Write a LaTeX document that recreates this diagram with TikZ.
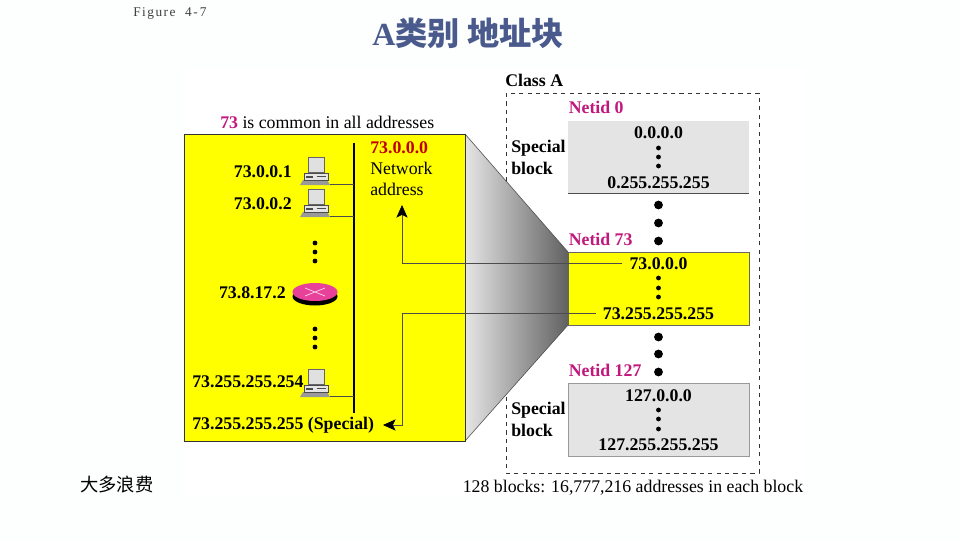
\documentclass[tikz,border=0pt]{standalone}
\usepackage{fontspec}
\usepackage{xcolor}
\usetikzlibrary{arrows.meta, positioning}
\setmainfont{Liberation Serif}
\newfontfamily\cjkfont{Noto Sans CJK SC}
\definecolor{pagebg}{HTML}{FDFEFE}
\definecolor{netyellow}{HTML}{FFFF00}
\definecolor{blockgray}{HTML}{E4E4E4}
\definecolor{netidpink}{HTML}{C2187E}
\definecolor{titleblue}{HTML}{4A5A8C}
\definecolor{routerpink}{HTML}{E8419A}
\tikzset{
  addr/.style={font=\bfseries\fontsize{12.65}{14}\selectfont, inner sep=0pt},
  plain/.style={font=\fontsize{12.65}{14}\selectfont, inner sep=0pt},
  netid/.style={addr, text=netidpink},
  smalldot/.style={fill=black},
  wire/.style={draw=black!70, line width=0.5pt},
  pc/.pic={
    \fill[black!40] (0,28) -- (30,28) -- (27,23) -- (3,23) -- cycle;
    \filldraw[fill=white!90!black, draw=black!70, line width=0.3pt] (4,16) rectangle (28,23);
    \filldraw[fill=black!12, draw=black!60, line width=0.4pt] (8,0) rectangle (24,15);
    \fill[black!70] (17,19) rectangle (26,20);
    \fill[black!70] (6,19) rectangle (13,20.5);
  }
}

\begin{document}
\begin{tikzpicture}[x=0.025cm, y=-0.025cm]
  \useasboundingbox (0,0) rectangle (960,540);
  \fill[pagebg] (0,0) rectangle (960,540);
  \fill[white] (184,68) rectangle (805,497);

  % Titel
  \node[inner sep=0pt, anchor=west, text=black!75, font=\fontsize{9.5}{11}\selectfont] (figlabel) at (133,14) {\addfontfeature{LetterSpace=11}Figure\ \ 4-\,7};
  \node[inner sep=0pt, anchor=west, text=titleblue, font=\bfseries\fontsize{22.9}{26}\selectfont] (title) at (372,33) {A{\cjkfont 类别 地址块}};
  \node[inner sep=0pt, anchor=west, font=\cjkfont\fontsize{13}{15}\selectfont] (waste) at (80,485) {大多浪费};

  % Klasse A (gestrichelt)
  \draw[dashed, line width=0.5pt, draw=black!80] (506,93) rectangle (759,473);
  \node[addr, anchor=west] (classa) at (505,80) {Class A};

  % Bloecke
  \fill[blockgray] (568,121) rectangle (749,193);
  \draw[black!70, line width=0.6pt] (568,193) -- (749,193);
  \filldraw[fill=netyellow, draw=black!60, line width=0.5pt] (568,252) rectangle (749,325);
  \filldraw[fill=blockgray, draw=black!40, line width=0.5pt] (568,383) rectangle (749,456);

  % Trichter
  \shade[left color=black!10, right color=black!62] (465,134) -- (568,252) -- (568,325) -- (465,441) -- cycle;
  \draw[black!70, line width=0.4pt] (465,134) -- (568,252);
  \draw[black!70, line width=0.4pt] (465,441) -- (568,325);

  % gelbes Netz
  \filldraw[fill=netyellow, draw=black!80, line width=0.5pt] (184.5,134) rectangle (465,441);

  % Rechner
  \pic at (300,157) {pc};
  \pic at (300,189) {pc};
  \pic at (300,369) {pc};
  \coordinate (pc1) at (330,184);
  \coordinate (pc2) at (330,216);
  \coordinate (pc3) at (330,396);
  \coordinate (bustop) at (354,143);
  \coordinate (busbottom) at (354,413);
  \draw[line width=1.2pt] (bustop) -- (busbottom);
  \draw[black!70, line width=0.5pt] (pc1) -- (bustop |- pc1);
  \draw[black!70, line width=0.5pt] (pc2) -- (bustop |- pc2);
  \draw[black!70, line width=0.5pt] (pc3) -- (bustop |- pc3);

  % Router
  \fill[black] (315,296.5) ellipse (22.5 and 9);
  \fill[routerpink] (315,292) ellipse (22.5 and 9);
  \draw[white!80!routerpink, line width=0.5pt] (305,288) -- (325,296) (305,296) -- (325,288);

  % Punkte
  \fill[smalldot] (315,243) circle (2.4);
  \fill[smalldot] (315,252) circle (2.4);
  \fill[smalldot] (315,261) circle (2.4);
  \fill[smalldot] (315,329) circle (2.4);
  \fill[smalldot] (315,338) circle (2.4);
  \fill[smalldot] (315,347) circle (2.4);
  \fill[smalldot] (658.5,148) circle (2.4);
  \fill[smalldot] (658.5,157) circle (2.4);
  \fill[smalldot] (658.5,166) circle (2.4);
  \fill[smalldot] (658.5,278) circle (2.4);
  \fill[smalldot] (658.5,288) circle (2.4);
  \fill[smalldot] (658.5,297) circle (2.4);
  \fill[smalldot] (658.5,410) circle (2.4);
  \fill[smalldot] (658.5,419) circle (2.4);
  \fill[smalldot] (658.5,429) circle (2.4);
  \fill[smalldot] (658.5,205) circle (4.4);
  \fill[smalldot] (658.5,223) circle (4.4);
  \fill[smalldot] (658.5,241) circle (4.4);
  \fill[smalldot] (658.5,337) circle (4.4);
  \fill[smalldot] (658.5,354) circle (4.4);
  \fill[smalldot] (658.5,372) circle (4.4);

  % Beschriftung links
  \node[plain, anchor=west] (common) at (220,122) {\textcolor{netidpink}{\bfseries 73} is common in all addresses};
  \node[addr, anchor=west, text=red!75!black] (netaddr) at (370,148) {73.0.0.0};
  \node[plain, anchor=west] (network) at (370,168.5) {Network};
  \node[plain, anchor=west] (address) at (370,189.5) {address};
  \node[addr, anchor=east] (hosta) at (292,172) {73.0.0.1};
  \node[addr, anchor=east] (hostb) at (292,204) {73.0.0.2};
  \node[addr, anchor=east] (routeraddr) at (286,292.5) {73.8.17.2};
  \node[addr, anchor=west] (hostc) at (192,382) {73.255.255.254};
  \node[addr, anchor=west] (special) at (192,425) {73.255.255.255 (Special)};

  % Beschriftung rechts
  \node[netid, anchor=west] (netid0) at (568.5,107) {Netid 0};
  \node[netid, anchor=west] (netid73) at (568.5,239) {Netid 73};
  \node[netid, anchor=west] (netid127) at (568.5,370) {Netid 127};
  \node[addr, anchor=west] (speciala) at (511,148) {Special};
  \node[addr, anchor=west] (blocka) at (511,168) {block};
  \node[addr, anchor=west] (specialb) at (511,410) {Special};
  \node[addr, anchor=west] (blockb) at (511,430) {block};
  \node[addr] (firsta) at (658.5,132.5) {0.0.0.0};
  \node[addr] (lasta) at (658.5,183) {0.255.255.255};
  \node[addr] (firstb) at (658.5,263.5) {73.0.0.0};
  \node[addr] (lastb) at (658.5,313.5) {73.255.255.255};
  \node[addr] (firstc) at (658.5,395.5) {127.0.0.0};
  \node[addr] (lastc) at (658.5,445) {127.255.255.255};
  \node[plain, anchor=west] (summary) at (462.5,487.5) {128 blocks: 16,777,216 addresses in each block};

  % Pfeile
  \coordinate (tipa) at (402,205);
  \coordinate (tipb) at (383,425);
  \draw[wire, shorten <=5pt, -{Stealth[length=9pt,width=8pt,inset=2pt,black]}] (firstb.west) -- (tipa |- firstb.west) -- (tipa);
  \draw[wire, shorten <=5pt, -{Stealth[length=9pt,width=8pt,inset=2pt,black]}] (lastb.west) -- (402,313.5) -- (402,425) -- (tipb);
\end{tikzpicture}
\end{document}
